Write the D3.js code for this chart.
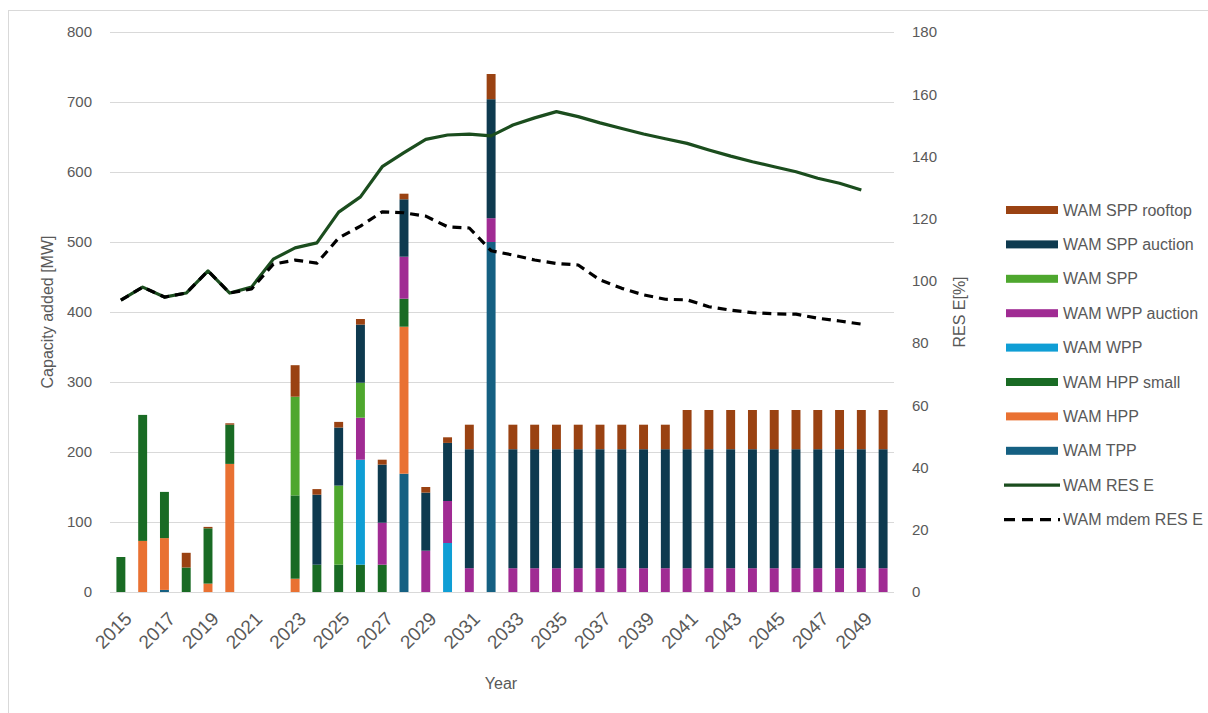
<!DOCTYPE html>
<html>
<head>
<meta charset="utf-8">
<script src="https://cdn.jsdelivr.net/npm/d3@7"></script>
<style>
  body { margin: 0; background: #fff; }
  text { font-family: "Liberation Sans", Arial, sans-serif; fill: #595959; }
</style>
</head>
<body>
<div id="graph-container"></div>
<script>
// ========== Data ==========
const years = [2015,2016,2017,2018,2019,2020,2021,2022,2023,2024,2025,2026,2027,2028,2029,2030,2031,2032,
               2033,2034,2035,2036,2037,2038,2039,2040,2041,2042,2043,2044,2045,2046,2047,2048,2049,2050];

// capacity added [MW], one value per year
const tpp      = [0,0,3,0,0,0,0,0, 0,0,0,0,0,169,0,0,0,500, 0,0,0,0,0,0,0,0,0,0,0,0,0,0,0,0,0,0];
const hpp      = [0,73,74,0,12,183,0,0, 19,0,0,0,0,210,0,0,0,0, 0,0,0,0,0,0,0,0,0,0,0,0,0,0,0,0,0,0];
const hppSmall = [50,180,66,35,79,56,0,0, 119,39,39,39,39,40,0,0,0,0, 0,0,0,0,0,0,0,0,0,0,0,0,0,0,0,0,0,0];
const wpp      = [0,0,0,0,0,0,0,0, 0,0,0,150,0,0,0,70,0,0, 0,0,0,0,0,0,0,0,0,0,0,0,0,0,0,0,0,0];
const wppAuct  = [0,0,0,0,0,0,0,0, 0,0,0,60,60,60,59,60,34,34, 34,34,34,34,34,34,34,34,34,34,34,34,34,34,34,34,34,34];
const spp      = [0,0,0,0,0,0,0,0, 141,0,113,50,0,0,0,0,0,0, 0,0,0,0,0,0,0,0,0,0,0,0,0,0,0,0,0,0];
const sppAuct  = [0,0,0,0,0,0,0,0, 0,100,83,83,83,82,83,83,170,170, 170,170,170,170,170,170,170,170,170,170,170,170,170,170,170,170,170,170];
const sppRoof  = [0,0,0,21,2,2,0,0, 45,8,8,8,7,8,8,8,35,36, 35,35,35,35,35,35,35,35,56,56,56,56,56,56,56,56,56,56];

// RES E share [%] (no value for 2050)
const resE     = [93.8,98,94.8,96.1,103.2,96.1,98,107,110.6,112.2,122.1,127,136.7,141.2,145.5,146.9,147.2,146.6,
                  150.1,152.4,154.4,152.8,150.8,149,147.2,145.7,144.2,142.1,140.1,138.3,136.7,135.1,133,131.4,129.2,null];
const resEmdem = [93.8,98,94.8,96.1,103.2,96.1,97.4,105.4,106.7,105.7,113.8,117.6,122.2,121.9,120.8,117.4,117,109.7,
                  108.3,106.7,105.6,105.1,100.3,97.6,95.5,94.1,93.9,91.7,90.6,89.8,89.4,89.3,88,87.1,86.1,null];

const leftTicks  = [0,100,200,300,400,500,600,700,800];
const rightTicks = [0,20,40,60,80,100,120,140,160,180];

// stacking order (bottom -> top), legend shows it reversed
const series = [
  { key: "WAM TPP",         values: tpp,      color: "#156082" },
  { key: "WAM HPP",         values: hpp,      color: "#E97132" },
  { key: "WAM HPP small",   values: hppSmall, color: "#196B24" },
  { key: "WAM WPP",         values: wpp,      color: "#0F9ED5" },
  { key: "WAM WPP auction", values: wppAuct,  color: "#A02B93" },
  { key: "WAM SPP",         values: spp,      color: "#4EA72E" },
  { key: "WAM SPP auction", values: sppAuct,  color: "#0E3A4F" },
  { key: "WAM SPP rooftop", values: sppRoof,  color: "#9A4212" }
];

// ========== Layout ==========
const W = 1208, H = 713;
const plot = { left: 110, right: 894, top: 32, bottom: 592 };

const svg = d3.select("#graph-container").append("svg")
  .attr("width", W)
  .attr("height", H);

// chart frame
svg.append("rect")
  .attr("x", 8.5).attr("y", 10.5)
  .attr("width", W).attr("height", H)
  .attr("fill", "none")
  .attr("stroke", "#d9d9d9");

// ========== Scales ==========
const x = d3.scaleBand()
  .domain(years)
  .range([plot.left, plot.right])
  .paddingInner(0.59)
  .paddingOuter(0.295);

const yL = d3.scaleLinear().domain([0, 800]).range([plot.bottom, plot.top]);
const yR = d3.scaleLinear().domain([0, 180]).range([plot.bottom, plot.top]);

// ========== Gridlines ==========
svg.append("g")
  .selectAll("line")
  .data(leftTicks)
  .join("line")
    .attr("x1", plot.left).attr("x2", plot.right)
    .attr("y1", d => Math.round(yL(d)) + 0.5)
    .attr("y2", d => Math.round(yL(d)) + 0.5)
    .attr("stroke", "#d9d9d9")
    .attr("stroke-width", 1);

// ========== Axes ==========
const leftAxis = svg.append("g")
  .attr("transform", `translate(${plot.left},0)`)
  .call(d3.axisLeft(yL).tickValues(leftTicks).tickSize(0).tickPadding(18));

const rightAxis = svg.append("g")
  .attr("transform", `translate(${plot.right},0)`)
  .call(d3.axisRight(yR).tickValues(rightTicks).tickSize(0).tickPadding(18));

[leftAxis, rightAxis].forEach(a => {
  a.select(".domain").remove();
  a.selectAll("text")
    .style("font-size", "15px")
    .style("fill", "#595959");
});

const bottomAxis = svg.append("g")
  .attr("transform", `translate(0,${plot.bottom})`)
  .call(d3.axisBottom(x)
    .tickValues(years.filter(d => (d - 2015) % 2 === 0))
    .tickSize(0));

bottomAxis.select(".domain").remove();
bottomAxis.selectAll("text")
  .style("font-size", "19px")
  .style("fill", "#595959")
  .attr("text-anchor", "end")
  .attr("dy", null)
  .attr("y", 0)
  .attr("transform", "translate(12,28) rotate(-45)");

// axis titles
svg.append("text")
  .attr("transform", "translate(53,312) rotate(-90)")
  .attr("text-anchor", "middle")
  .style("font-size", "16px")
  .text("Capacity added [MW]");

svg.append("text")
  .attr("transform", "translate(965,312) rotate(-90)")
  .attr("text-anchor", "middle")
  .style("font-size", "16px")
  .text("RES E[%]");

svg.append("text")
  .attr("x", 501).attr("y", 689)
  .attr("text-anchor", "middle")
  .style("font-size", "16px")
  .text("Year");

// ========== Stacked bars ==========
const table = years.map((yr, i) => {
  let row = { year: yr };
  series.forEach(s => { row[s.key] = s.values[i]; });
  return row;
});

const stacked = d3.stack().keys(series.map(s => s.key))(table);

svg.append("g")
  .selectAll("g")
  .data(stacked)
  .join("g")
    .attr("fill", (d, i) => series[i].color)
  .selectAll("rect")
  .data(d => d.filter(v => v[1] - v[0] > 0))
  .join("rect")
    .attr("x", d => x(d.data.year))
    .attr("width", x.bandwidth())
    .attr("y", d => yL(d[1]))
    .attr("height", d => yL(d[0]) - yL(d[1]));

// ========== Lines (right axis) ==========
const line = d3.line()
  .defined(d => d != null)
  .x((d, i) => x(years[i]) + x.bandwidth() / 2)
  .y(d => yR(d));

svg.append("path")
  .datum(resE)
  .attr("fill", "none")
  .attr("stroke", "#1B4D1E")
  .attr("stroke-width", 3.2)
  .attr("stroke-linejoin", "round")
  .attr("d", line);

svg.append("path")
  .datum(resEmdem)
  .attr("fill", "none")
  .attr("stroke", "#000")
  .attr("stroke-width", 3.2)
  .attr("stroke-dasharray", "9,6")
  .attr("stroke-linejoin", "round")
  .attr("d", line);

// ========== Legend ==========
const legendItems = series.slice().reverse().map(s => ({ key: s.key, color: s.color, type: "bar" }))
  .concat([
    { key: "WAM RES E", color: "#1B4D1E", type: "line" },
    { key: "WAM mdem RES E", color: "#000", type: "dash" }
  ]);

const legend = svg.append("g")
  .selectAll("g")
  .data(legendItems)
  .join("g")
    .attr("transform", (d, i) => `translate(1006,${210 + i * 34.4})`);

legend.filter(d => d.type === "bar")
  .append("rect")
    .attr("x", 0).attr("y", -4)
    .attr("width", 52).attr("height", 8)
    .attr("fill", d => d.color);

legend.filter(d => d.type !== "bar")
  .append("line")
    .attr("x1", -2).attr("x2", 54)
    .attr("stroke", d => d.color)
    .attr("stroke-width", 3.2)
    .attr("stroke-dasharray", d => d.type === "dash" ? "11,7" : null);

legend.append("text")
  .attr("x", 57)
  .attr("dy", "0.35em")
  .style("font-size", "16px")
  .text(d => d.key);
</script>
</body>
</html>
